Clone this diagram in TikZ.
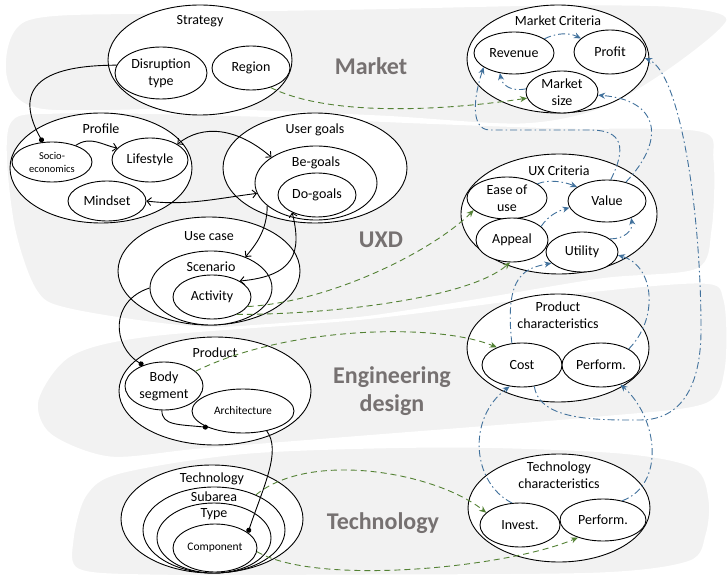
\documentclass[tikz,border=0pt]{standalone}
\usepackage{fontspec}
\setmainfont{Carlito}
\usetikzlibrary{shapes.geometric,arrows.meta}

\definecolor{bandgray}{RGB}{242,242,242}
\definecolor{bandtext}{RGB}{118,113,113}
\definecolor{kpiblue}{RGB}{65,113,156}
\definecolor{mapgreen}{RGB}{84,130,53}

\begin{document}
\begin{tikzpicture}[x=1pt, y=-1pt,
    every node/.style={font=\fontsize{14}{17}\selectfont, align=center, inner sep=0pt},
    elli/.style={ellipse, draw, fill=white, line width=0.9pt},
    settitle/.style={anchor=north, inner sep=11pt},
    small/.style={font=\fontsize{11.5}{13}\selectfont},
    band/.style={fill=bandgray, draw=white, line width=3pt},
    bandlabel/.style={font=\fontsize{24}{28}\selectfont\bfseries, text=bandtext},
    assoc/.style={line width=0.9pt},
    flow/.style={assoc, -{Straight Barb[length=4pt,width=8pt]}},
    mutual/.style={assoc, {Straight Barb[length=4pt,width=8pt]}-{Straight Barb[length=4pt,width=8pt]}},
    attach/.style={assoc, -{Circle[length=5pt]}},
    mapsto/.style={mapgreen, line width=0.9pt, dash pattern=on 6pt off 4pt, -{Stealth[length=7pt,width=6pt]}},
    drives/.style={kpiblue, line width=0.9pt, dash pattern=on 7pt off 3pt on 1.5pt off 3pt, -{Stealth[length=7pt,width=6pt]}}]
    \useasboundingbox (0,0) rectangle (728,577);

    % the four layers
    \path[band] plot[smooth cycle] coordinates {(5,75) (25,20) (150,12) (364,8) (560,4) (680,6) (728,20) (670,70) (600,110) (520,125) (380,117) (200,110) (40,110)};
    \path[band] plot[smooth cycle] coordinates {(8,125) (60,112) (250,115) (420,122) (560,127) (700,130) (715,160) (713,230) (697,270) (600,280) (450,305) (330,322) (200,328) (70,310) (35,290) (12,220)};
    \path[band] plot[smooth cycle] coordinates {(37,400) (70,355) (150,335) (364,318) (550,295) (700,282) (725,300) (726,370) (705,405) (600,418) (364,437) (200,450) (110,458) (50,435)};
    \path[band] plot[smooth cycle] coordinates {(72,540) (85,495) (120,472) (250,452) (450,446) (620,452) (695,467) (710,500) (707,535) (690,562) (600,574) (364,576) (150,576) (78,570)};
    \node[bandlabel] (marketlbl) at (371,66) {Market};
    \node[bandlabel] (uxdlbl) at (381,240) {UXD};
    \node[bandlabel] (englbl) at (392,391) {Engineering\\design};
    \node[bandlabel] (techlbl) at (383,523) {Technology};

    % market
    \node[elli, minimum width=184, minimum height=110] (strategy) at (200,60) {};
    \node[settitle] (strategy-t) at (strategy.north) {Strategy};
    \node[elli, minimum width=92, minimum height=52] (disrupt) at (161,73) {Disruption\\type};
    \node[elli, minimum width=78, minimum height=44] (region) at (251,68) {Region};
    \node[elli, minimum width=182, minimum height=108] (mktcrit) at (558,59) {};
    \node[settitle] (mktcrit-t) at (mktcrit.north) {Market Criteria};
    \node[elli, minimum width=80, minimum height=42] (revenue) at (514,53) {Revenue};
    \node[elli, minimum width=72, minimum height=44] (profit) at (610,52) {Profit};
    \node[elli, minimum width=72, minimum height=42] (mktsize) at (562,92) {Market\\size};

    % uxd
    \node[elli, minimum width=182, minimum height=110] (profile) at (101,168) {};
    \node[settitle] (profile-t) at (profile.north) {Profile};
    \node[elli, minimum width=80, minimum height=40, font=\fontsize{10.5}{13}\selectfont] (socio) at (52,162) {Socio-\\economics};
    \node[elli, minimum width=76, minimum height=44] (lifestyle) at (150,160) {Lifestyle};
    \node[elli, minimum width=78, minimum height=40] (mindset) at (107,201) {Mindset};
    \node[elli, minimum width=184, minimum height=110] (usergoals) at (315,168) {};
    \node[settitle] (usergoals-t) at (usergoals.north) {User goals};
    \node[elli, minimum width=122, minimum height=74] (begoals) at (316,183) {};
    \node[settitle] (begoals-t) at (begoals.north) {Be-goals};
    \node[elli, minimum width=78, minimum height=44] (dogoals) at (317,195) {Do-goals};
    \node[elli, minimum width=182, minimum height=108] (usecase) at (209,271) {};
    \node[settitle, inner sep=15pt] (usecase-t) at (usecase.north) {Use case};
    \node[elli, minimum width=122, minimum height=74] (scenario) at (211,288) {};
    \node[settitle] (scenario-t) at (scenario.north) {Scenario};
    \node[elli, minimum width=78, minimum height=44] (activity) at (212,297) {Activity};
    \node[elli, minimum width=196, minimum height=120] (uxcrit) at (559,214) {};
    \node[settitle, inner sep=12pt] (uxcrit-t) at (uxcrit.north) {UX Criteria};
    \node[elli, minimum width=80, minimum height=42] (ease) at (507,198) {Ease of\\use};
    \node[elli, minimum width=78, minimum height=42] (value) at (607,201) {Value};
    \node[elli, minimum width=72, minimum height=44] (appeal) at (512,240) {Appeal};
    \node[elli, minimum width=72, minimum height=40] (utility) at (582,252) {Utility};

    % engineering design
    \node[elli, minimum width=192, minimum height=108] (product) at (215,391) {};
    \node[settitle] (product-t) at (product.north) {Product};
    \node[elli, minimum width=78, minimum height=48] (bodyseg) at (164,386) {Body\\segment};
    \node[elli, small, minimum width=102, minimum height=44] (archi) at (243,411) {Architecture};
    \node[elli, minimum width=182, minimum height=108] (prodchar) at (558,348) {};
    \node[settitle, inner sep=8pt] (prodchar-t) at (prodchar.north) {Product\\characteristics};
    \node[elli, minimum width=80, minimum height=44] (cost) at (522,365) {Cost};
    \node[elli, minimum width=78, minimum height=44] (perfprod) at (601,365) {Perform.};

    % technology
    \node[elli, minimum width=182, minimum height=108] (technology) at (212,519) {};
    \node[settitle, inner sep=8pt] (technology-t) at (technology.north) {Technology};
    \node[elli, minimum width=142, minimum height=86] (subarea) at (214,530) {};
    \node[settitle, inner sep=5pt] (subarea-t) at (subarea.north) {Subarea};
    \node[elli, minimum width=114, minimum height=70] (ttype) at (214,538) {};
    \node[settitle, inner sep=6pt] (ttype-t) at (ttype.north) {Type};
    \node[elli, small, minimum width=84, minimum height=48] (component) at (215,548) {Component};
    \node[elli, minimum width=182, minimum height=108] (techchar) at (559,508) {};
    \node[settitle, inner sep=8pt] (techchar-t) at (techchar.north) {Technology\\characteristics};
    \node[elli, minimum width=80, minimum height=44] (invest) at (520,525) {Invest.};
    \node[elli, minimum width=86, minimum height=42] (perftech) at (603,520) {Perform.};

    % black links
    \draw[attach] (disrupt.170) .. controls +(-90,0) and +(-25,-45) .. (socio.115);
    \draw[flow] (socio.35) .. controls +(15,-10) and +(-15,-3) .. (lifestyle.160);
    \draw[mutual] (lifestyle.30) .. controls +(25,-20) and +(-35,-30) .. (begoals.150);
    \draw[mutual] (mindset.0) .. controls +(40,5) and +(-40,5) .. (begoals.190);
    \draw[flow] (begoals.205) .. controls +(0,25) and +(10,-12) .. (scenario.42);
    \draw[mutual] (dogoals.215) .. controls +(10,40) and +(55,-5) .. (activity.30);
    \draw[attach] (scenario.180) .. controls +(-40,13) and +(-31,-19) .. (bodyseg.135);
    \draw[attach] (bodyseg.265) .. controls +(0,15) and +(-30,-3) .. (archi.205);
    \draw[attach] (archi.-40) .. controls +(15,20) and +(15,-45) .. (component.25);

    % green links
    \draw[mapsto] (region.-45) .. controls +(60,30) and +(-80,12) .. (mktsize.190);
    \draw[mapsto] (activity.-15) .. controls +(85,-5) and +(-40,40) .. (ease.200);
    \draw[mapsto] (activity.-35) .. controls +(100,0) and +(-40,35) .. (appeal.265);
    \draw[mapsto] (bodyseg.25) .. controls +(90,-45) and +(-60,-25) .. (cost.145);
    \draw[mapsto] (subarea.40) .. controls +(55,-45) and +(-50,-40) .. (invest.160);
    \draw[mapsto] (component.-5) .. controls +(60,35) and +(-70,30) .. (perftech.215);

    % blue links
    \draw[drives] (revenue.25) .. controls +(12,-6) and +(-12,-6) .. (profit.155);
    \draw[drives] (mktsize.175) .. controls +(-15,3) and +(2,12) .. (revenue.235);
    \draw[drives] (value.80) .. controls +(20,-40) and +(25,0) .. (590,130) -- (490,130) .. controls +(-20,0) and +(-10,30) .. (revenue.205);
    \draw[drives] (value.45) .. controls +(40,-42) and +(62,5) .. (mktsize.-5);
    \draw[drives] (cost.-60) .. controls +(5,35) and +(-40,0) .. (640,420) .. controls +(45,0) and +(0,50) .. (701,330) .. controls +(0,-120) and +(35,15) .. (profit.-10);
    \draw[drives] (ease.25) .. controls +(12,-5) and +(-12,-5) .. (value.155);
    \draw[drives] (appeal.25) .. controls +(8,-12) and +(-10,3) .. (value.190);
    \draw[drives] (utility.25) .. controls +(15,0) and +(2,12) .. (value.-35);
    \draw[drives] (cost.115) .. controls +(-8,-70) and +(-25,5) .. (utility.200);
    \draw[drives] (perfprod.30) .. controls +(30,-30) and +(37,11) .. (utility.-5);
    \draw[drives] (invest.110) .. controls +(-40,-20) and +(-43,32) .. (cost.240);
    \draw[drives] (perftech.45) .. controls +(43,-16) and +(38,34) .. (perfprod.-45);
\end{tikzpicture}
\end{document}
